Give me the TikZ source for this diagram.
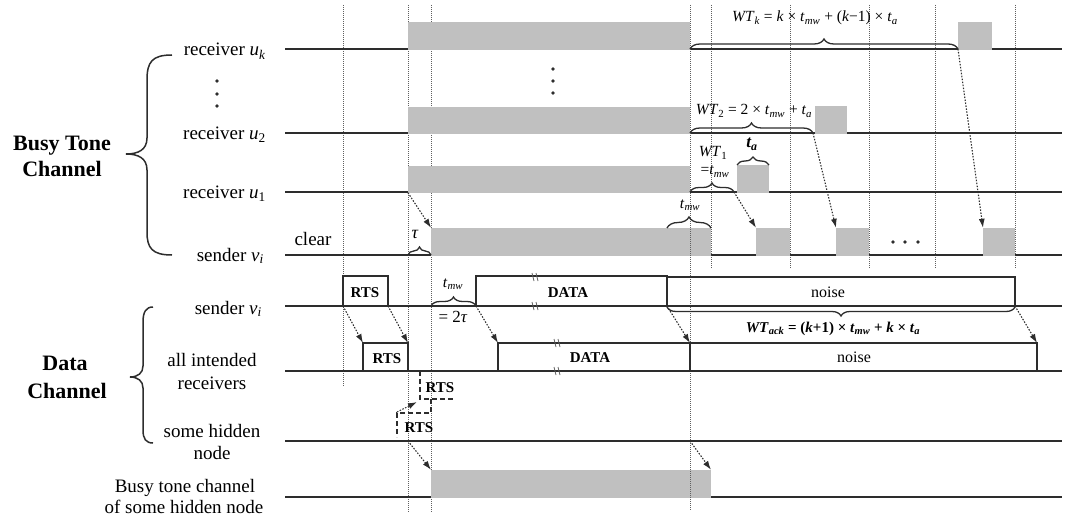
\documentclass[tikz,border=0pt]{standalone}
\usepackage{fontspec}
\setmainfont{Liberation Serif}
\usetikzlibrary{decorations.pathreplacing,arrows.meta}
\definecolor{busy}{RGB}{192,192,192}
\definecolor{ink}{RGB}{45,45,45}
\definecolor{gridc}{RGB}{95,95,95}
\newcommand{\myit}[1]{\textit{#1}}
\newcommand{\mysub}[1]{\textsubscript{\textit{#1}}}
\tikzset{
  tl/.style={draw=ink, line width=1.5pt},
  vgrid/.style={draw=gridc, line width=1pt, dash pattern=on 1pt off 1pt},
  busyblk/.style={fill=busy, draw=none, inner sep=0pt, outer sep=0pt, anchor=south west},
  pkt/.style={draw=ink, line width=2pt, inner sep=0pt, outer sep=0pt, anchor=south west},
  sig/.style={draw=ink, line width=1.1pt, dash pattern=on 1.5pt off 1.5pt, -{Latex[length=9pt,width=6pt]}},
  brc/.style={draw=ink, line width=1.3pt, decorate, decoration={brace, amplitude=#1}},
  hid/.style={draw=ink, line width=1.8pt, dash pattern=on 5pt off 3pt},
  lbl/.style={inner sep=0pt, font=\fontsize{19}{22}\selectfont},
  big/.style={inner sep=0pt, font=\fontsize{22}{26}\selectfont\bfseries},
  fml/.style={inner sep=0pt, font=\fontsize{15.5}{18}\selectfont},
  pktl/.style={inner sep=0pt, font=\fontsize{15}{18}\selectfont\bfseries},
  noisel/.style={inner sep=0pt, font=\fontsize{16}{18}\selectfont},
  brk/.pic={
    \draw[gridc, line width=0.8pt] (-3,-4) .. controls (-1,-1.5) and (-3,1.5) .. (-1,4);
    \draw[gridc, line width=0.8pt] (1,-4) .. controls (3,-1.5) and (1,1.5) .. (3,4);
  }
}
\begin{document}
\begin{tikzpicture}[x=1pt,y=-1pt]
\useasboundingbox (0,0) rectangle (1066,524);

% vertical dotted guides
\foreach \x/\yb in {343/387,408/512,431/512,711/268,790/268,869/268,935/268,1015/268}
  \draw[vgrid] (\x,5) -- (\x,\yb);

% timelines
\draw[tl] (285,49) -- (1062,49);
\draw[tl] (285,133) -- (1062,133);
\draw[tl] (285,192) -- (1062,192);
\draw[tl] (285,255) -- (1062,255);
\draw[tl] (285,306) -- (1062,306);
\draw[tl] (285,371) -- (1062,371);
\draw[tl] (285,441) -- (1062,441);
\draw[tl] (285,497) -- (1062,497);

% busy tone blocks
\node[busyblk, minimum width=282pt, minimum height=28pt] (bk)  at (408,49.8) {};
\node[busyblk, minimum width=34pt,  minimum height=28pt] (bkk) at (958,49.8) {};
\node[busyblk, minimum width=282pt, minimum height=27pt] (b2)  at (408,133.8) {};
\node[busyblk, minimum width=32pt,  minimum height=28pt] (b22) at (815,133.8) {};
\node[busyblk, minimum width=282pt, minimum height=27pt] (b1)  at (408,192.8) {};
\node[busyblk, minimum width=32pt,  minimum height=28pt] (b12) at (737,192.8) {};
\node[busyblk, minimum width=280pt, minimum height=28pt] (bs)  at (431,255.8) {};
\node[busyblk, minimum width=34pt,  minimum height=28pt] (bs1) at (756,255.8) {};
\node[busyblk, minimum width=33pt,  minimum height=28pt] (bs2) at (836,255.8) {};
\node[busyblk, minimum width=32pt,  minimum height=28pt] (bs3) at (983,255.8) {};
\node[busyblk, minimum width=280pt, minimum height=28pt] (bh)  at (431,497.8) {};

\draw[vgrid] (690,5) -- (690,510);

% packets, data channel
\node[pkt, minimum width=45pt,  minimum height=30pt] (rtsS)   at (343,306) {};
\node[pkt, minimum width=191pt, minimum height=30pt] (dataS)  at (476,306) {};
\node[pkt, minimum width=348pt, minimum height=29pt] (noiseS) at (667,306) {};
\node[pkt, minimum width=45pt,  minimum height=28pt] (rtsR)   at (363,371) {};
\node[pkt, minimum width=192pt, minimum height=28pt] (dataR)  at (498,371) {};
\node[pkt, minimum width=347pt, minimum height=28pt] (noiseR) at (690,371) {};

\pic at (535,277) {brk};
\pic at (535,306) {brk};
\pic at (557,343) {brk};
\pic at (557,371) {brk};

% hidden node RTS (dashed)
\draw[hid] (420,371) -- (420,399) -- (453,399);
\draw[hid] (431,399) -- (431,413) -- (397,413) -- (397,437);

% named points
\coordinate (w1end) at (734,192);
\coordinate (w2end) at (813,133);
\coordinate (wkend) at (958,49);
\coordinate (hidS)  at (408,441);
\coordinate (hidE)  at (690,441);
\coordinate (hrA)   at (397,412);
\coordinate (hrB)   at (417,402);

% signal arrows
\draw[sig] (b1.south west) -- (bs.north west);
\draw[sig] (w1end) -- (bs1.north west);
\draw[sig] (w2end) -- (bs2.north west);
\draw[sig] (wkend) -- (bs3.north west);
\draw[sig] (rtsS.south west) -- (rtsR.north west);
\draw[sig] (rtsS.south east) -- (rtsR.north east);
\draw[sig] (dataS.south west) -- (dataR.north west);
\draw[sig] (noiseS.south west) -- (noiseR.north west);
\draw[sig] (noiseS.south east) -- (noiseR.north east);
\draw[sig] (hrA) -- (hrB);
\draw[sig] (hidS) -- (bh.north west);
\draw[sig] (hidE) -- (bh.north east);

% braces
\draw[brc=10pt] (690,49) -- (958,49);
\draw[brc=10pt] (690,133) -- (813,133);
\draw[brc=9pt] (690,192) -- (734,192);
\draw[brc=8pt] (737,165) -- (769,165);
\draw[brc=11pt] (667,228) -- (711,228);
\draw[brc=8pt] (408,255) -- (431,255);
\draw[brc=9pt] (431,306) -- (476,306);
\draw[brc=9pt] (1015,307) -- (667,307);

% big side braces
\draw[ink, line width=1.5pt] (172,55) .. controls (152,55) and (147,62) .. (147,80) -- (147,138)
  .. controls (147,150) and (138,154) .. (126,154) .. controls (138,154) and (147,158) .. (147,170)
  -- (147,232) .. controls (147,248) and (152,255) .. (172,255);
\draw[ink, line width=1.5pt] (153,307) .. controls (146,307) and (143,312) .. (143,322) -- (143,366)
  .. controls (143,373) and (138,377) .. (130,377) .. controls (138,377) and (143,381) .. (143,388)
  -- (143,430) .. controls (143,439) and (146,443) .. (153,443);

% dots
\foreach \y in {81,94,106} \fill[ink] (217,\y) circle (1.9pt);
\foreach \y in {69,81,93} \fill[ink] (553,\y) circle (1.9pt);
\foreach \x in {893,905,918} \fill[ink] (\x,242) circle (1.9pt);

% left labels
\node[lbl, anchor=base east] (ruk) at (266,56) {receiver \myit{u}\mysub{k}};
\node[lbl, anchor=base east] (ru2) at (266,140) {receiver \myit{u}\textsubscript{2}};
\node[lbl, anchor=base east] (ru1) at (266,199) {receiver \myit{u}\textsubscript{1}};
\node[lbl, anchor=base east] (svb) at (264,261) {sender \myit{v}\mysub{i}};
\node[big, anchor=base] (btc1) at (62,150) {Busy Tone};
\node[big, anchor=base] (btc2) at (62,177) {Channel};
\node[lbl, anchor=base east] (svd) at (262,314) {sender \myit{v}\mysub{i}};
\node[lbl, anchor=base] (air1) at (212,366) {all intended};
\node[lbl, anchor=base] (air2) at (212,389) {receivers};
\node[lbl, anchor=base] (shn1) at (212,437) {some hidden};
\node[lbl, anchor=base] (shn2) at (212,459) {node};
\node[lbl, anchor=base] (btn1) at (185,492) {Busy tone channel};
\node[lbl, anchor=base] (btn2) at (184,513) {of some hidden node};
\node[big, anchor=base] (dc1) at (65,370) {Data};
\node[big, anchor=base] (dc2) at (67,398) {Channel};
\node[lbl, anchor=base] (clr) at (313,245) {clear};

% formulas / brace labels
\node[fml, anchor=base] (fwk) at (815,22) {\myit{WT}\mysub{k} = \myit{k} × \myit{t}\mysub{mw} + (\myit{k}−1) × \myit{t}\mysub{a}};
\node[fml, anchor=base] (fw2) at (754,115) {\myit{WT}\textsubscript{2} = 2 × \myit{t}\mysub{mw} + \myit{t}\mysub{a}};
\node[fml, anchor=base] (fw1a) at (713,157) {\myit{WT}\textsubscript{1}};
\node[fml, anchor=base] (fw1b) at (715,175) {=\myit{t}\mysub{mw}};
\node[fml, anchor=base, font=\fontsize{17}{18}\selectfont\bfseries] (fta) at (752,148) {\myit{t\textsubscript{a}}};
\node[fml, anchor=base] (ftm1) at (690,208) {\myit{t}\mysub{mw}};
\node[fml, anchor=base, font=\fontsize{18}{20}\selectfont] (ftau) at (415,238) {\myit{τ}};
\node[fml, anchor=base] (ftm2) at (453,287) {\myit{t}\mysub{mw}};
\node[fml, anchor=base, font=\fontsize{17}{20}\selectfont] (f2tau) at (453,322) {= 2\myit{τ}};
\node[fml, anchor=base, font=\fontsize{15}{18}\selectfont\bfseries] (fack) at (833,332) {\myit{WT}\mysub{ack} = (\myit{k}+1) × \myit{t}\mysub{mw} + \myit{k} × \myit{t}\mysub{a}};

% packet labels
\node[pktl, anchor=base] (lrtsS) at (365,297) {RTS};
\node[pktl, anchor=base] (lrtsR) at (387,363) {RTS};
\node[pktl, anchor=base] (lrtsH1) at (440,392) {RTS};
\node[pktl, anchor=base] (lrtsH2) at (419,432) {RTS};
\node[pktl, anchor=base] (ldataS) at (568,297) {DATA};
\node[pktl, anchor=base] (ldataR) at (590,362) {DATA};
\node[noisel, anchor=base] (lnoiseS) at (828,297) {noise};
\node[noisel, anchor=base] (lnoiseR) at (854,362) {noise};
\end{tikzpicture}
\end{document}
